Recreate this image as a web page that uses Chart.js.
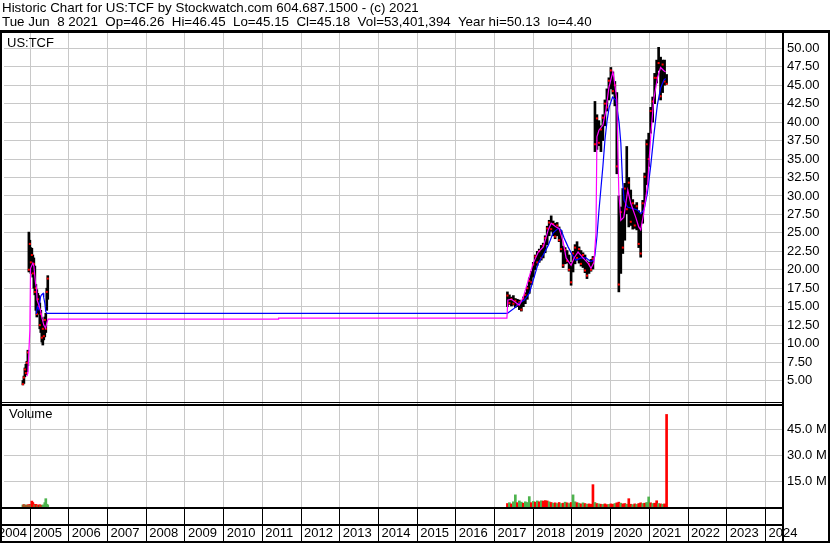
<!DOCTYPE html>
<html>
<head>
<meta charset="utf-8">
<script src="https://cdn.jsdelivr.net/npm/chart.js@4.4.1/dist/chart.umd.min.js"></script>
<style>
html,body{margin:0;padding:0;background:#fff;}
#wrap{position:relative;width:830px;height:543px;overflow:hidden;background:#fff;font-family:"Liberation Sans",Arial,sans-serif;color:#000;}
#c{position:absolute;left:0;top:0;}
.t{position:absolute;font-size:13px;line-height:15px;white-space:pre;}
.h{font-size:13.35px;}
</style>
</head>
<body>
<div id="wrap">
<canvas id="c" width="830" height="543"></canvas>
<div class="t h" style="left:2px;top:0px">Historic Chart for US:TCF by Stockwatch.com 604.687.1500 - (c) 2021</div>
<div class="t h" style="left:2px;top:14px">Tue Jun  8 2021  Op=46.26  Hi=46.45  Lo=45.15  Cl=45.18  Vol=53,401,394  Year hi=50.13  lo=4.40</div>
<div class="t" style="left:7px;top:35px">US:TCF</div>
<div class="t" style="left:9px;top:406px">Volume</div>
</div>
<script>
// ---- data (decimal-year dates) ----
const dates = [
  2004.812, 2004.838, 2004.864, 2004.889, 2004.915, 2004.941, 2004.967, 2004.992, 2005.018, 2005.044,
  2005.069, 2005.095, 2005.121, 2005.147, 2005.172, 2005.198, 2005.224, 2005.249, 2005.275, 2005.301,
  2005.327, 2005.352, 2005.378, 2005.404, 2005.429, 2005.455,
  2017.332, 2017.383, 2017.435, 2017.486, 2017.537, 2017.589, 2017.640, 2017.692, 2017.743, 2017.794, 2017.846, 2017.897, 2017.949,
  2018.000, 2018.051, 2018.103, 2018.154, 2018.206, 2018.257, 2018.308, 2018.360, 2018.411, 2018.463, 2018.514, 2018.565, 2018.617, 2018.668, 2018.720, 2018.771, 2018.823, 2018.874, 2018.925, 2018.977,
  2019.028, 2019.080, 2019.131, 2019.183, 2019.234, 2019.285, 2019.337, 2019.388, 2019.440, 2019.491, 2019.542, 2019.594, 2019.645, 2019.697, 2019.748, 2019.799, 2019.851, 2019.902, 2019.954,
  2020.005, 2020.057, 2020.108, 2020.159, 2020.211, 2020.262, 2020.314, 2020.365, 2020.416, 2020.468, 2020.519, 2020.571, 2020.622, 2020.674, 2020.725, 2020.776, 2020.828, 2020.879, 2020.931, 2020.982,
  2021.033, 2021.085, 2021.136, 2021.188, 2021.239, 2021.290, 2021.342, 2021.393, 2021.445
];
const highs = [
  5.0, 5.6, 6.7, 7.2, 7.6, 9.1, 25.1, 24.0, 23.0, 22.9, 22.0, 21.6, 20.5, 18.0, 17.3, 16.8, 16.5, 15.5, 14.5, 13.5, 12.8, 13.0, 13.6, 14.1, 17.5, 19.2,
  17.0, 16.6, 16.3, 16.5, 16.1, 16.0, 15.9, 15.6, 16.3, 16.9, 17.8, 18.9, 19.8,
  21.0, 22.0, 22.5, 22.8, 23.3, 23.6, 24.6, 25.9, 26.7, 27.3, 26.6, 26.3, 26.4, 25.8, 25.3, 23.2, 23.0, 22.6, 22.0, 21.0,
  22.5, 23.4, 23.8, 23.1, 22.6, 22.3, 22.0, 21.2, 21.0, 21.4, 21.8, 42.8, 41.0, 40.2, 39.5, 41.0, 43.0, 44.5, 46.0,
  47.4, 46.8, 45.5, 44.0, 30.0, 28.5, 31.0, 31.7, 36.7, 32.5, 30.8, 29.5, 28.8, 29.1, 28.0, 27.5, 29.4, 33.1, 37.6, 38.5,
  42.0, 43.4, 46.6, 48.4, 50.13, 48.8, 48.4, 48.4, 46.45
];
const lows = [
  4.4, 4.6, 5.5, 5.8, 6.2, 7.0, 19.7, 20.5, 19.5, 19.6, 19.0, 17.5, 16.6, 14.5, 13.6, 14.0, 14.5, 12.0, 11.5, 10.2, 9.8, 10.5, 10.9, 11.5, 14.5, 16.0,
  15.0, 15.3, 15.1, 15.2, 14.9, 15.0, 14.6, 14.4, 15.0, 15.4, 16.0, 16.8, 18.0,
  19.0, 20.0, 20.6, 21.0, 21.3, 21.6, 22.3, 23.4, 24.6, 25.2, 24.6, 24.2, 24.6, 23.8, 22.4, 20.3, 20.8, 20.9, 19.8, 17.9,
  19.7, 20.8, 21.3, 20.9, 20.5, 20.3, 19.6, 18.8, 19.5, 19.8, 20.1, 36.0, 36.3, 36.8, 36.0, 37.5, 39.5, 41.5, 43.0,
  44.5, 43.8, 42.2, 33.0, 17.0, 19.5, 22.2, 24.0, 27.6, 25.8, 26.0, 25.5, 25.6, 25.4, 23.0, 21.7, 26.3, 29.0, 31.5, 34.0,
  38.5, 40.0, 42.5, 45.3, 47.0, 43.0, 44.0, 45.0, 45.15
];
const closes = [
  4.5, 5.4, 6.5, 6.0, 7.4, 8.8, 20.0, 23.5, 21.0, 22.0, 19.5, 20.8, 17.0, 17.5, 14.0, 16.0, 15.0, 12.5, 14.0, 10.8, 12.0, 11.0, 13.2, 12.0, 17.0, 18.8,
  16.5, 15.5, 16.0, 15.4, 15.8, 15.2, 15.6, 14.6, 16.1, 16.6, 17.5, 18.5, 18.3,
  20.7, 21.8, 21.0, 22.5, 21.6, 23.3, 24.3, 25.6, 26.4, 25.5, 26.2, 24.5, 26.0, 24.0, 22.8, 20.6, 22.7, 21.2, 20.0, 18.3,
  22.2, 23.0, 21.6, 22.8, 20.8, 22.0, 19.9, 19.2, 20.8, 20.0, 21.5, 37.0, 40.5, 37.2, 39.0, 40.6, 42.5, 42.0, 45.6,
  47.0, 44.2, 45.0, 34.0, 18.0, 27.8, 23.0, 31.0, 28.2, 31.8, 26.5, 29.0, 26.0, 28.6, 23.5, 22.2, 29.0, 32.6, 37.0, 35.0,
  41.5, 42.8, 46.0, 46.0, 48.0, 43.5, 47.8, 45.5, 45.18
];
// volume in millions, 'u' = green (up), 'd' = red (down)
const volumes = [
  1.2, 1.4, 1.2, 0.9, 1.1, 1.3, 1.0, 1.5, 1.2, 3.4, 2.6, 1.6, 1.2, 1.5, 1.2, 0.9, 1.1, 1.3, 0.8, 1.0, 1.2, 1.0, 2.5, 4.8, 1.6, 1.2,
  2.0, 2.5, 1.8, 3.0, 7.0, 2.5, 3.5, 2.8, 2.2, 3.0, 2.6, 6.0, 2.5,
  3.2, 2.8, 3.5, 3.0, 3.6, 3.4, 3.7, 3.5, 3.0, 2.6, 2.2, 2.4, 2.0, 2.6, 2.0, 2.2, 2.8, 2.4, 2.0, 2.6,
  7.0, 3.0, 2.5, 2.2, 1.8, 2.4, 2.0, 1.6, 1.8, 1.6, 12.9, 2.6, 2.0, 1.8, 1.6, 1.5, 1.8, 1.4, 1.5,
  1.8, 1.6, 2.0, 2.4, 2.8, 2.2, 1.8, 2.0, 1.6, 4.8, 1.6, 1.4, 1.8, 1.5, 2.0, 2.4, 2.0, 2.2, 2.6, 5.8,
  2.4, 2.0, 2.2, 3.6, 2.0, 1.8, 1.6, 1.8, 53.4
];
const volDir = [
  'u','d','u','d','u','d','u','d','u','d','d','d','u','d','d','u','d','d','u','d','u','u','u','u','u','u',
  'd','u','d','u','u','d','u','u','d','u','u','u','d',
  'u','d','u','d','u','d','d','d','u','d','u','d','u','d','u','d','u','d','u','d',
  'u','u','d','u','d','u','d','u','d','d','d','u','d','u','d','u','d','d','u',
  'd','d','u','d','d','u','d','d','u','d','d','u','d','u','d','d','u','d','u','u',
  'd','u','d','d','u','d','u','d','d'
];
// short moving average (magenta)
const maShortX = [
  2004.915, 2004.941, 2004.992, 2005.010, 2005.069, 2005.095, 2005.139, 2005.165, 2005.180, 2005.224, 2005.267, 2005.308, 2005.352, 2005.396, 2005.437, 2005.463,
  2011.411, 2011.419, 2017.319,
  2017.344, 2017.435, 2017.563, 2017.640, 2017.743, 2017.871, 2018.000, 2018.129, 2018.257, 2018.386, 2018.463, 2018.591, 2018.668, 2018.771, 2018.848, 2018.977,
  2019.054, 2019.157, 2019.285, 2019.414, 2019.491, 2019.568, 2019.620, 2019.645, 2019.697, 2019.799, 2019.877, 2019.954,
  2020.057, 2020.082, 2020.159, 2020.185, 2020.211, 2020.262, 2020.339, 2020.442, 2020.519, 2020.648, 2020.725, 2020.776, 2020.853, 2020.956,
  2021.033, 2021.110, 2021.213, 2021.290, 2021.368, 2021.419
];
const maShortY = [
  5.6, 6.0, 11.8, 20.2, 20.9, 20.5, 18.2, 17.5, 15.9, 15.2, 14.5, 13.4, 12.5, 12.1, 12.9, 13.3,
  13.3, 13.45, 13.45,
  15.9, 16.0, 15.5, 15.2, 16.3, 18.6, 20.9, 22.4, 23.1, 25.4, 26.3, 25.8, 25.6, 23.8, 21.6, 20.6,
  21.6, 22.4, 21.6, 20.9, 20.2, 21.0, 25.0, 38.0, 38.9, 39.6, 41.6, 44.7,
  46.8, 46.1, 43.0, 36.2, 30.4, 26.7, 27.1, 30.8, 29.0, 27.1, 25.8, 25.4, 27.6, 31.7,
  38.0, 43.0, 46.1, 47.4, 47.0, 46.8
];
// long moving average (blue)
const maLongX = [
  2005.159, 2005.185, 2005.224, 2005.267, 2005.293, 2005.334, 2005.352, 2005.378, 2005.404, 2005.437,
  2017.332, 2017.512, 2017.640, 2017.769, 2017.897,
  2018.000, 2018.129, 2018.257, 2018.386, 2018.514, 2018.643, 2018.720, 2018.797, 2018.900,
  2019.028, 2019.105, 2019.234, 2019.362, 2019.491, 2019.568, 2019.594, 2019.645, 2019.697, 2019.748, 2019.799, 2019.851, 2019.902, 2019.961,
  2020.049, 2020.134, 2020.219, 2020.262, 2020.305, 2020.347, 2020.434, 2020.563, 2020.692, 2020.776, 2020.861, 2020.949,
  2021.033, 2021.118, 2021.205, 2021.290, 2021.375, 2021.419
];
const maLongY = [
  14.0, 15.0, 14.6, 16.3, 16.6, 16.8, 16.2, 15.5, 14.3, 14.1,
  14.1, 14.8, 15.5, 15.9, 16.8,
  18.6, 20.9, 22.0, 23.3, 25.0, 25.6, 25.4, 24.3, 23.1,
  21.8, 21.3, 21.6, 21.6, 21.1, 21.3, 22.0, 24.5, 28.0, 31.0, 34.0, 37.5, 40.0, 42.0,
  43.4, 43.0, 39.9, 37.2, 32.1, 29.4, 28.5, 28.3, 28.1, 27.6, 28.1, 30.4,
  34.0, 38.3, 42.3, 44.6, 45.7, 45.9
];
// tick labels
const yearTicks = [2004, 2005, 2006, 2007, 2008, 2009, 2010, 2011, 2012, 2013, 2014, 2015, 2016, 2017, 2018, 2019, 2020, 2021, 2022, 2023, 2024];
const priceTicks = [5, 7.5, 10, 12.5, 15, 17.5, 20, 22.5, 25, 27.5, 30, 32.5, 35, 37.5, 40, 42.5, 45, 47.5, 50];
const volTicks = [15, 30, 45];

// ---- chart ----
const FONT = '"Liberation Sans", Arial, sans-serif';
Chart.defaults.font.family = FONT;
Chart.defaults.font.size = 13;
Chart.defaults.color = '#000';

const GRID = '#c8c8c8';
const UP = '#4db34d', DOWN = '#ff0000';

const framePlugin = {
  id: 'frame',
  afterDraw(chart) {
    const {ctx, chartArea: a, width: W, height: H} = chart;
    const yp = chart.scales.yPrice, yv = chart.scales.yVol;
    ctx.save();
    ctx.fillStyle = '#000';
    ctx.fillRect(0, a.top - 3, W, 3);
    ctx.fillRect(0, a.top - 3, 2, H - a.top + 3);
    ctx.fillRect(W - 2, a.top - 3, 2, H - a.top + 3);
    ctx.fillRect(a.right, a.top - 3, 2, H - a.top + 3);
    ctx.fillRect(0, yp.bottom - 1, a.right, 1);
    ctx.fillRect(0, yv.top + 1, a.right, 2);
    ctx.fillRect(0, a.bottom, a.right, 2);
    ctx.fillRect(0, H - 19, a.right, 2);
    ctx.fillRect(0, H - 2, W, 2);
    ctx.restore();
  }
};

new Chart(document.getElementById('c'), {
  type: 'scatter',
  data: {
    datasets: [
      {
        type: 'line', label: 'MA short', yAxisID: 'yPrice', order: 0,
        data: maShortX.map((x, i) => ({x, y: maShortY[i]})),
        borderColor: '#ff00ff', borderWidth: 1.2, pointRadius: 0, tension: 0, fill: false
      },
      {
        type: 'line', label: 'MA long', yAxisID: 'yPrice', order: 1,
        data: maLongX.map((x, i) => ({x, y: maLongY[i]})),
        borderColor: '#0000ff', borderWidth: 1.2, pointRadius: 0, tension: 0, fill: false
      },
      {
        type: 'scatter', label: 'Close', yAxisID: 'yPrice', order: 2,
        data: dates.map((x, i) => ({x, y: closes[i]})),
        pointStyle: 'rect', pointRadius: 1.42, pointBackgroundColor: '#ff0000', pointBorderWidth: 0
      },
      {
        type: 'bar', label: 'Price', yAxisID: 'yPrice', order: 3,
        data: dates.map((x, i) => ({x, y: [lows[i], highs[i]]})),
        backgroundColor: '#000', borderWidth: 0, barThickness: 2, grouped: false
      },
      {
        type: 'bar', label: 'Volume', yAxisID: 'yVol', order: 4,
        data: dates.map((x, i) => ({x, y: volumes[i]})),
        backgroundColor: volDir.map(d => d === 'u' ? UP : DOWN), borderWidth: 0, barThickness: 2, grouped: false
      }
    ]
  },
  options: {
    responsive: false,
    animation: false,
    events: [],
    layout: {padding: {top: 33, left: 0, right: 0, bottom: 0}},
    plugins: {legend: {display: false}, tooltip: {enabled: false}, title: {display: false}},
    scales: {
      x: {
        type: 'linear', position: 'bottom', bounds: 'data',
        min: 2004.324, max: 2024.427, offset: false,
        afterFit(s) { s.height = 36; },
        afterBuildTicks(s) { s.ticks = yearTicks.map((y, i) => ({value: i === 0 ? 2004.09 : y})); },
        grid: {color: GRID, tickColor: '#000', tickLength: 36, lineWidth: 1, offset: false, drawOnChartArea: true},
        border: {display: false},
        ticks: {
          autoSkip: false, maxRotation: 0, minRotation: 0, align: 'start', labelOffset: 3, padding: -17,
          color: '#000', font: {family: FONT, size: 13},
          callback: (v, i) => String(yearTicks[i])
        }
      },
      yPrice: {
        type: 'linear', position: 'right', stack: 'panels', stackWeight: 370, bounds: 'data',
        min: 1.95, max: 52.07,
        afterFit(s) { s.width = 48; },
        afterBuildTicks(s) { s.ticks = priceTicks.map(v => ({value: v})); },
        grid: {color: GRID, drawTicks: false, lineWidth: 1},
        border: {display: false},
        ticks: {autoSkip: false, padding: 5, color: '#000', font: {family: FONT, size: 13}, callback: v => v.toFixed(2)}
      },
      yVol: {
        type: 'linear', position: 'right', stack: 'panels', stackWeight: 104, bounds: 'data',
        min: 0, max: 60,
        afterFit(s) { s.width = 48; },
        afterBuildTicks(s) { s.ticks = volTicks.map(v => ({value: v})); },
        grid: {color: GRID, drawTicks: false, lineWidth: 1},
        border: {display: false},
        ticks: {autoSkip: false, padding: 5, color: '#000', font: {family: FONT, size: 13}, callback: v => v.toFixed(1) + ' M'}
      }
    }
  },
  plugins: [framePlugin]
});
</script>
</body>
</html>
